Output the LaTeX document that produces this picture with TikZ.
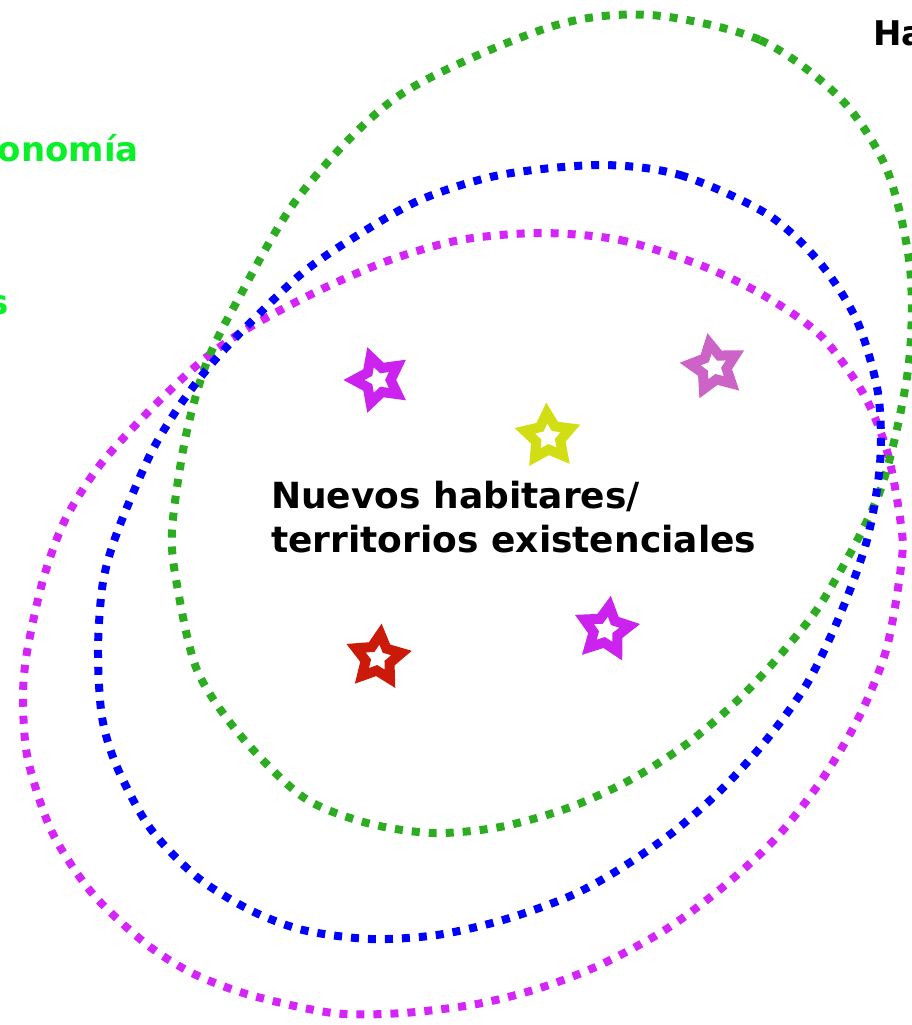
\documentclass[tikz,border=0pt]{standalone}
\usepackage{fontspec}
\setmainfont{DejaVu Sans}
\usetikzlibrary{shapes.geometric}
\definecolor{ringgreen}{RGB}{44,172,32}
\definecolor{ringblue}{RGB}{0,0,255}
\definecolor{ringmag}{RGB}{212,36,250}
\definecolor{labgreen}{RGB}{10,240,40}
\definecolor{starmag}{RGB}{204,34,238}
\definecolor{starpink}{RGB}{204,100,200}
\definecolor{staryel}{RGB}{210,222,20}
\definecolor{starred}{RGB}{204,26,10}
\begin{document}
\begin{tikzpicture}[x=1pt, y=-1pt, every node/.style={font=\fontsize{34}{44}\selectfont\bfseries, inner sep=0pt},
	ring/.style={line width=8pt, dash pattern=on 8pt off 9pt},
	hstar/.style={star, star points=5, star point ratio=1.9, minimum size=48pt, draw=#1, fill=white, line width=10pt}]
	\useasboundingbox (0,0) rectangle (912,1025);
	\draw[ring, ringmag] plot[smooth cycle] coordinates {(540,233) (620,240) (700,265) (763,295) (820,335) (863,393) (887,451) (900,518) (902,558) (887,647) (860,715) (823,778) (777,837) (723,887) (665,930) (600,965) (540,988) (477,1004) (403,1013) (333,1013) (250,995) (192,973) (145,943) (92,893) (52,832) (28,760) (23,700) (27,652) (43,580) (65,520) (100,465) (152,408) (203,360) (250,327) (320,290) (390,260) (460,240)};
	\draw[ring, ringgreen] plot[smooth cycle] coordinates {(650,15) (760,40) (840,98) (887,170) (910,268) (908,370) (880,491) (827,594) (787,647) (740,698) (688,743) (630,780) (568,808) (500,827) (433,833) (367,823) (303,797) (240,735) (197,670) (177,585) (172,530) (185,440) (205,367) (235,305) (300,195) (400,95) (550,27)};
	\draw[ring, ringblue] plot[smooth cycle] coordinates {(600,165) (680,175) (767,214) (820,263) (857,321) (878,393) (880,464) (867,540) (840,615) (808,682) (768,738) (723,788) (672,833) (615,872) (568,897) (503,920) (437,935) (370,939) (303,930) (250,910) (197,877) (150,828) (117,767) (102,717) (98,650) (103,582) (118,530) (150,455) (178,408) (208,368) (243,330) (300,275) (350,240) (420,200) (500,175)};
	\node[hstar=starmag, rotate=18] (s1) at (378,380) {};
	\node[hstar=starpink, rotate=11] (s2) at (714,367) {};
	\node[hstar=staryel, rotate=3] (s3) at (548,437) {};
	\node[hstar=starred, rotate=-6] (s4) at (378,658) {};
	\node[hstar=starmag, rotate=-8] (s5) at (606,630) {};
	\node[anchor=base west, align=left, font=\fontsize{36}{44}\selectfont\bfseries] (txt) at (271,552) {Nuevos habitares/\\territorios existenciales};
	\node[anchor=base east, labgreen] (lblA) at (139,161) {onomía};
	\node[anchor=base east, labgreen] (lblB) at (9,314) {s};
	\node[anchor=base west] (lblC) at (873,46) {Ha};
\end{tikzpicture}
\end{document}
